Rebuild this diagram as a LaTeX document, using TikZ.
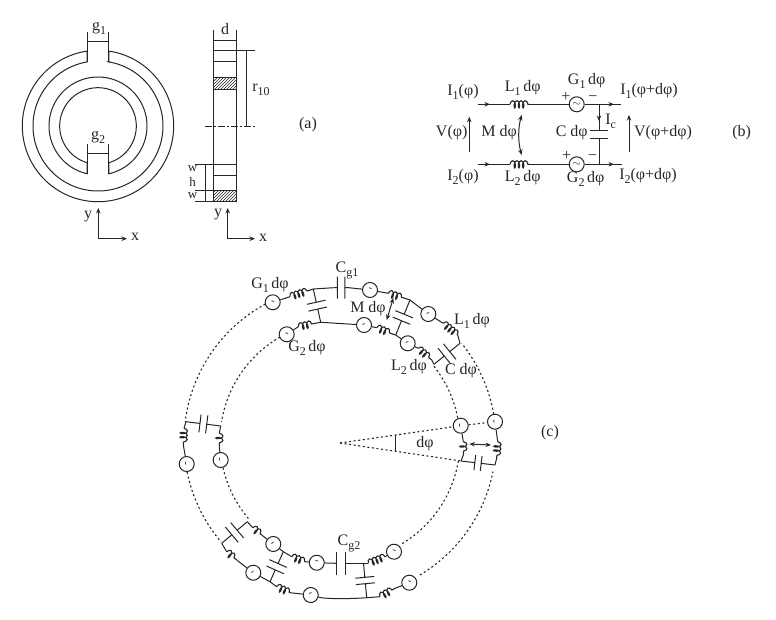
\documentclass[tikz,border=0pt]{standalone}
\usepackage{fontspec}
\setmainfont{Liberation Serif}
\usetikzlibrary{calc,patterns,arrows.meta,decorations.pathmorphing}
\newcommand\sbt[1]{\raisebox{-4pt}{\fontsize{12}{12}\selectfont #1}}
\newcommand\capc[4]{% from, to, half gap, half plate length
  \coordinate (cm) at ($(#1)!0.5!(#2)$);
  \coordinate (ca) at ($(cm)!#3!(#1)$);
  \coordinate (cb) at ($(cm)!#3!(#2)$);
  \draw[wire] (#1) -- (ca) ($(ca)!#4!90:(#1)$) -- ($(ca)!#4!-90:(#1)$);
  \draw[wire] (#2) -- (cb) ($(cb)!#4!90:(#2)$) -- ($(cb)!#4!-90:(#2)$);}
\newcommand\dotarc[3]{\draw[dotw] plot[domain=#2:#3,samples=50] ({340+#1*cos(\x)},{441-#1*sin(\x)});}
\definecolor{ink}{gray}{0.15}
\tikzset{
  wire/.style={draw=ink,line width=1pt},
  dotw/.style={draw=ink,line width=1.1pt,dash pattern=on 2pt off 2.6pt},
  coilw/.style={draw=ink,line width=1.1pt,decorate,decoration={coil,aspect=0.45,segment length=4.2pt,amplitude=3.6pt}},
  tip/.style={-{Stealth[length=5.5pt,width=4.5pt]}},
  tips/.style={{Stealth[length=5.5pt,width=4.5pt]}-{Stealth[length=5.5pt,width=4.5pt]}},
  lab/.style={inner sep=0pt,text=ink,font=\fontsize{16}{16}\selectfont},
  smalllab/.style={inner sep=0pt,text=ink,font=\fontsize{13}{13}\selectfont},
  src/.style={circle,draw=ink,line width=1pt,fill=white,minimum size=15pt,inner sep=0pt,font=\fontsize{11}{11}\selectfont,text=ink},
  hatchbox/.style={draw=ink,line width=1pt,pattern=north east lines,pattern color=ink},
}
\begin{document}
\begin{tikzpicture}[x=1pt,y=-1pt]
\useasboundingbox (0,0) rectangle (776,619);
% ---------- (a) rings
\draw[wire] plot[domain=98.2:441.8,samples=120] ({98+75.7*cos(\x)},{126-75.7*sin(\x)}) -- (109,62) -- plot[domain=80.4:-260.4,samples=120] ({98+65*cos(\x)},{126-65*sin(\x)}) -- cycle;
\draw[wire] plot[domain=-77.3:257.3,samples=120] ({98+49*cos(\x)},{126-49*sin(\x)}) -- plot[domain=253.6:-73.6,samples=120] ({98+38.3*cos(\x)},{126-38.3*sin(\x)}) -- cycle;
\draw[wire] (87.2,32) -- (87.2,62) (108.9,32) -- (108.9,62) (87.2,41.7) -- (108.9,41.7);
\draw[wire] (87.2,144) -- (87.2,174) (108.9,144) -- (108.9,174) (87.2,153.3) -- (108.9,153.3);
\node[lab] (g1) at (99,28) {g\sbt{1}};
\node[lab] (g2) at (98,137) {g\sbt{2}};
% axes left
\coordinate (ax1) at (98.3,238.7);
\draw[wire,tip] (ax1) -- (98.3,208);
\draw[wire,tip] (ax1) -- (127,238.7);
\node[lab] (y1) at (88,217) {y};
\node[lab] (x1) at (135,237) {x};
% side view
\draw[wire] (213.7,30) -- (213.7,201.7) (236.7,30) -- (236.7,201.7);
\draw[wire] (213.7,40.7) -- (236.7,40.7);
\draw[wire] (213.7,50.7) -- (255,50.7);
\draw[wire] (213.7,61.7) -- (236.7,61.7);
\path[hatchbox] (213.7,77.3) rectangle (236.7,89);
\draw[wire,dash pattern=on 7pt off 2pt on 2pt off 2pt] (205,126) -- (255,126);
\draw[wire] (246.7,50.7) -- (246.7,126);
\draw[wire] (195,164.3) -- (236.7,164.3);
\draw[wire] (213.7,175.7) -- (236.7,175.7);
\path[hatchbox] (213.7,190.7) rectangle (236.7,201.7);
\draw[wire] (195,190.7) -- (213.7,190.7) (195,201.7) -- (213.7,201.7);
\draw[wire] (205.7,164.3) -- (205.7,201.7);
\node[lab] (d) at (225,29) {d};
\node[lab] (r10) at (261,90) {r\sbt{10}};
\node[lab] (pa) at (308,125) {(a)};
\node[smalllab] (w1) at (192.5,169) {w};
\node[smalllab] (h) at (192.5,182) {h};
\node[smalllab] (w2) at (192.5,196) {w};
\coordinate (ax2) at (227.7,238.7);
\draw[wire,tip] (ax2) -- (227.7,208);
\draw[wire,tip] (ax2) -- (255,238.7);
\node[lab] (y2) at (218,215) {y};
\node[lab] (x2) at (263,238) {x};
% ---------- (b)
\node[src] (bg1) at (576.7,104.3) {$\sim$};
\node[src] (bg2) at (576.7,164.3) {$\sim$};
\coordinate (bt0) at (478,104.3);
\coordinate (bt1) at (510,104.3);
\coordinate (bt2) at (530,104.3);
\coordinate (bt3) at (621,104.3);
\coordinate (bb0) at (478,164.3);
\coordinate (bb1) at (510,164.3);
\coordinate (bb2) at (530,164.3);
\coordinate (bb3) at (622,164.3);
\coordinate (bjt) at (599,104.3);
\coordinate (bjb) at (599,164.3);
\draw[wire] (bt0) -- (bt1) (bt2) -- (bg1) (bg1) -- (bt3);
\draw[wire] (bb0) -- (bb1) (bb2) -- (bg2) (bg2) -- (bb3);
\draw[coilw] (bt1) -- (bt2);
\draw[coilw] (bb1) -- (bb2);
\draw[wire,tip] (bt0) -- (490,104.3);
\draw[wire,tip] (bb0) -- (490,164.3);
\draw[wire,tip] (bjt) -- (614,104.3);
\draw[wire,tip] (bjb) -- (614,164.3);
\capc{bjt}{bjb}{3.7pt}{9pt}
\draw[wire,tip] (bjt) -- (599,121);
\draw[wire,tip] (469.3,151.7) -- (469.3,116.7);
\draw[wire,tip] (629,151.7) -- (629,115);
\draw[wire,tips] (521.7,115) .. controls (518,128) and (518,142) .. (521.7,155);
\node[lab] (i1a) at (463,92) {I\sbt{1}(φ)};
\node[lab] (l1) at (522.7,88) {L\sbt{1}\,dφ};
\node[lab] (gg1) at (586.7,81) {G\sbt{1}\,dφ};
\node[lab] (p1) at (566,96.7) {+};
\node[lab] (m1) at (593,98.5) {−};
\node[lab] (i1b) at (649,90.7) {I\sbt{1}(φ+dφ)};
\node[lab] (ic) at (610.7,121) {I\sbt{c}};
\node[lab] (v1) at (451.7,133) {V(φ)};
\node[lab] (md) at (499,133) {M dφ};
\node[lab] (cd) at (571.7,133) {C dφ};
\node[lab] (v2) at (663,133) {V(φ+dφ)};
\node[lab] (pb) at (741.7,133) {(b)};
\node[lab] (i2a) at (463,176.7) {I\sbt{2}(φ)};
\node[lab] (l2) at (522.7,178) {L\sbt{2}\,dφ};
\node[lab] (gg2) at (585.7,179) {G\sbt{2}\,dφ};
\node[lab] (i2b) at (648,176) {I\sbt{2}(φ+dφ)};
\node[lab] (p2) at (566.7,155.7) {+};
\node[lab] (m2) at (592.7,157.7) {−};
% ---------- (c) dotted rings
\dotarc{156}{118.6}{172.9}
\dotarc{156}{191.5}{220.3}
\dotarc{156}{-59.2}{-11.3}
\dotarc{156}{9.9}{38.7}
\dotarc{120}{120}{170.8}
\dotarc{120}{192.9}{221}
\dotarc{120}{-58.8}{-9.4}
\dotarc{120}{11.2}{39.2}
% top chain
\node[src,rotate=-20] (s1) at (272.7,302.3) {-};
\node[src,rotate=-20] (s2) at (370,290) {-};
\node[src,rotate=20] (s3) at (428.3,314) {-};
\node[src,rotate=-20] (s4) at (286.7,334.3) {-};
\node[src,rotate=20] (s5) at (364,325) {-};
\node[src,rotate=20] (s6) at (407.7,343.3) {-};
\coordinate (t1) at (290,296.7);
\coordinate (t2) at (307.3,291);
\coordinate (t3) at (313.3,289);
\coordinate (t4) at (333.5,287.7);
\coordinate (t5) at (348.8,287.7);
\coordinate (t6) at (388.3,293.3);
\coordinate (t7) at (405,298.3);
\coordinate (t8) at (410,300);
\coordinate (t9) at (443.3,323.3);
\coordinate (t10) at (457.7,335);
\coordinate (t11) at (460,343.3);
\coordinate (u1) at (298.3,326.7);
\coordinate (u2) at (315,323.3);
\coordinate (u3) at (320.7,322.3);
\coordinate (u4) at (376.7,327.7);
\coordinate (u5) at (393.3,334.3);
\coordinate (u6) at (395.7,335);
\coordinate (u7) at (418.3,348.3);
\coordinate (u8) at (431.7,360);
\coordinate (u9) at (434,364.3);
\draw[wire] (s1) -- (t1) (t2) -- (t3) -- (t4) (t5) -- (s2) (s2) -- (t6) (t7) -- (t8) -- (s3) (s3) -- (t9) (t10) -- (t11);
\draw[coilw] (t1) -- (t2);
\draw[coilw] (t6) -- (t7);
\draw[coilw] (t9) -- (t10);
\capc{t4}{t5}{3.8pt}{11pt}
\draw[wire] (s4) -- (u1) (u2) -- (u3) -- (s5) (s5) -- (u4) (u5) -- (u6) -- (s6) (s6) -- (u7) (u8) -- (u9);
\draw[coilw] (u1) -- (u2);
\draw[coilw] (u4) -- (u5);
\draw[coilw] (u7) -- (u8);
\capc{t3}{u3}{3.5pt}{9.5pt}
\capc{t8}{u6}{3.5pt}{9.5pt}
\capc{u9}{t11}{3.5pt}{10pt}
\draw[wire,tips] (393.3,298) -- (386.7,320);
\node[lab] (gc1) at (270,285) {G\sbt{1}\,dφ};
\node[lab] (cg1) at (347,270) {C\sbt{g1}};
\node[lab] (mc) at (368,309) {M dφ};
\node[lab] (lc1) at (472,321) {L\sbt{1}\,dφ};
\node[lab] (gc2) at (307,348) {G\sbt{2}\,dφ};
\node[lab] (lc2) at (409,367) {L\sbt{2}\,dφ};
\node[lab] (cc) at (461,371) {C dφ};
% left group
\node[src,rotate=90] (s7) at (186.7,464) {-};
\node[src,rotate=90] (s8) at (220.7,460) {-};
\coordinate (l1a) at (186,421.7);
\coordinate (l1b) at (184,428.3);
\coordinate (l1c) at (183.3,445);
\coordinate (l2a) at (220.7,426);
\coordinate (l2b) at (219.3,433.3);
\coordinate (l2c) at (219.3,446.7);
\capc{l1a}{l2a}{3.4pt}{9pt}
\draw[wire] (l1a) -- (l1b) (l1c) -- (s7) (l2a) -- (l2b) (l2c) -- (s8);
\draw[coilw] (l1b) -- (l1c);
\draw[coilw] (l2b) -- (l2c);
% lower left group
\node[src,rotate=40] (s9) at (273.3,544) {-};
\node[src,rotate=40] (s10) at (253.3,572.7) {-};
\node[src,rotate=-10] (s11) at (316.7,562.7) {-};
\node[src,rotate=15] (s12) at (310.7,595) {-};
\node[src,rotate=-20] (s13) at (394,551.7) {-};
\node[src,rotate=-20] (s14) at (409.3,582.7) {-};
\coordinate (d1) at (247.3,521.7);
\coordinate (d2) at (221.7,543.3);
\capc{d2}{d1}{3.5pt}{10pt}
\coordinate (d3) at (252.7,527.7);
\coordinate (d4) at (261.7,535);
\coordinate (d5) at (283.3,551.7);
\coordinate (d6) at (291.7,556.7);
\coordinate (d7) at (305,561.7);
\coordinate (d8) at (336.7,563.3);
\coordinate (d9) at (345,563.3);
\coordinate (d10) at (363.5,563.3);
\coordinate (d11) at (368.3,563.3);
\coordinate (d12) at (385,556.7);
\coordinate (e1) at (226.7,551.7);
\coordinate (e2) at (236.7,560);
\coordinate (e3) at (270,581.7);
\coordinate (e4) at (276.7,586.7);
\coordinate (e5) at (290,592.7);
\coordinate (e6) at (366.7,597.7);
\coordinate (e7) at (380,596.7);
\coordinate (e8) at (395,588.3);
\draw[wire] (d1) -- (d3) (d4) -- (s9) (s9) -- (d5) -- (d6) (d7) -- (s11) (s11) -- (d8);
\draw[coilw] (d3) -- (d4);
\draw[coilw] (d6) -- (d7);
\draw[wire] (336.7,552) -- (336.7,575) (345,552) -- (345,575);
\draw[wire] (d9) -- (d10) -- (d11);
\draw[coilw] (d11) -- (d12);
\draw[wire] (d12) -- (s13);
\draw[wire] (d2) -- (e1) (e2) -- (s10) (s10) -- (e3) -- (e4) (e5) -- (s12);
\draw[coilw] (e1) -- (e2);
\draw[coilw] (e4) -- (e5);
\draw[wire] (s12) .. controls (325,599) and (350,599) .. (e6) -- (e7);
\draw[coilw] (e7) -- (e8);
\draw[wire] (e8) -- (s14);
\capc{d5}{e3}{3.5pt}{9.5pt}
\capc{d10}{e6}{3.2pt}{9.5pt}
\node[lab] (cg2) at (349,543) {C\sbt{g2}};
% right group
\node[src,rotate=90] (s15) at (460.7,425.7) {-};
\node[src,rotate=90] (s16) at (495,421.7) {-};
\coordinate (r1a) at (463.3,441.7);
\coordinate (r1b) at (463.3,455);
\coordinate (r1c) at (461,461);
\coordinate (r2a) at (497.7,441.7);
\coordinate (r2b) at (496.7,458);
\coordinate (r2c) at (495,465);
\draw[wire] (s15) -- (r1a) (r1b) -- (r1c) (s16) -- (r2a) (r2b) -- (r2c);
\draw[coilw] (r1a) -- (r1b);
\draw[coilw] (r2a) -- (r2b);
\capc{r1c}{r2c}{3.2pt}{7.5pt}
\draw[wire,tips] (469.3,444) -- (491,445);
\draw[dotw] (s15) -- (s16);
% wedge
\coordinate (apex) at (340,443);
\draw[dotw] (apex) -- (s15);
\draw[dotw] (apex) -- (r1c);
\draw[wire] (395.7,435) -- (395.7,451.7);
\node[lab] (dphi) at (425,444) {dφ};
\node[lab] (pc) at (550,433) {(c)};
\end{tikzpicture}
\end{document}
